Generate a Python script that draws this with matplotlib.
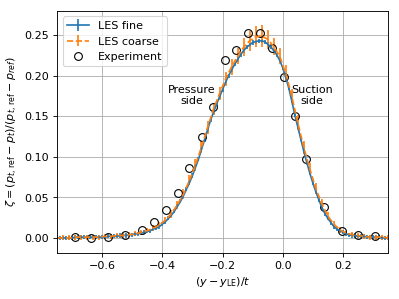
import numpy as np
import matplotlib
matplotlib.use('Agg')
import matplotlib.pyplot as plt

# LES fine, sampled every 0.01 from -0.75 to 0.35
fine_x = np.round(np.arange(-0.75, 0.355, 0.01), 2)
fine_zeta = [0.000, 0.000, 0.000, 0.000, 0.000, 0.000, 0.001, 0.001, 0.001, 0.001,
             0.001, 0.001, 0.001, 0.001, 0.001, 0.001, 0.001, 0.002, 0.002, 0.002,
             0.002, 0.003, 0.003, 0.003, 0.004, 0.004, 0.005, 0.005, 0.006, 0.007,
             0.008, 0.009, 0.011, 0.012, 0.014, 0.017, 0.020, 0.024, 0.028, 0.033,
             0.039, 0.045, 0.052, 0.060, 0.068, 0.077, 0.087, 0.097, 0.109, 0.121,
             0.133, 0.145, 0.155, 0.165, 0.174, 0.183, 0.192, 0.200, 0.207, 0.214,
             0.220, 0.226, 0.231, 0.235, 0.238, 0.241, 0.242, 0.243, 0.243, 0.242,
             0.239, 0.236, 0.231, 0.226, 0.219, 0.210, 0.198, 0.185, 0.169, 0.152,
             0.137, 0.122, 0.107, 0.093, 0.080, 0.068, 0.057, 0.047, 0.038, 0.030,
             0.024, 0.019, 0.014, 0.011, 0.009, 0.007, 0.005, 0.004, 0.003, 0.003,
             0.002, 0.002, 0.002, 0.001, 0.001, 0.001, 0.001, 0.001, 0.000, 0.000,
             0.000]
fine_err = 0.0025

# LES coarse, sampled every 0.02
coarse_x = np.round(np.arange(-0.75, 0.355, 0.02), 2)
coarse_zeta = [0.000, 0.000, 0.000, 0.001, 0.001, 0.001, 0.001, 0.001, 0.002, 0.002,
               0.003, 0.003, 0.004, 0.005, 0.007, 0.009, 0.012, 0.016, 0.022, 0.030,
               0.041, 0.054, 0.071, 0.090, 0.112, 0.136, 0.159, 0.178, 0.196, 0.211,
               0.224, 0.235, 0.243, 0.248, 0.249, 0.245, 0.236, 0.224, 0.203, 0.175,
               0.142, 0.112, 0.085, 0.061, 0.042, 0.027, 0.017, 0.010, 0.006, 0.004,
               0.003, 0.002, 0.001, 0.001, 0.001, 0.000]
coarse_err = [0.003, 0.003, 0.003, 0.003, 0.003, 0.003, 0.003, 0.003, 0.003, 0.003,
              0.003, 0.003, 0.003, 0.003, 0.003, 0.003, 0.004, 0.004, 0.004, 0.005,
              0.005, 0.006, 0.006, 0.007, 0.007, 0.008, 0.008, 0.008, 0.009, 0.010,
              0.010, 0.011, 0.012, 0.013, 0.013, 0.012, 0.011, 0.010, 0.010, 0.009,
              0.009, 0.008, 0.007, 0.007, 0.006, 0.005, 0.004, 0.004, 0.003, 0.003,
              0.003, 0.003, 0.003, 0.003, 0.003, 0.003]

# experiment
exp_x = [-0.690, -0.637, -0.580, -0.523, -0.467, -0.427, -0.389, -0.347, -0.310,
         -0.268, -0.232, -0.191, -0.154, -0.114, -0.076, -0.037, 0.004, 0.041,
         0.079, 0.137, 0.196, 0.251, 0.307]
exp_zeta = [0.001, 0.000, 0.001, 0.004, 0.010, 0.020, 0.034, 0.056, 0.086,
            0.124, 0.162, 0.219, 0.232, 0.253, 0.253, 0.234, 0.198, 0.150,
            0.097, 0.038, 0.009, 0.004, 0.002]

fig = plt.figure(figsize=(4.99, 3.74), dpi=80)
ax = fig.add_axes([0.143, 0.154, 0.829, 0.809])

h_fine = ax.errorbar(fine_x, fine_zeta, yerr=fine_err, color='tab:blue', label='LES fine')
h_coarse = ax.errorbar(coarse_x, coarse_zeta, yerr=coarse_err, color='tab:orange', ls='--', label='LES coarse')
h_exp, = ax.plot(exp_x, exp_zeta, 'o', mfc='none', mec='black', ms=7, label='Experiment')

ax.text(-0.303, 0.176, 'Pressure\nside', ha='center', va='center')
ax.text(0.098, 0.176, 'Suction\nside', ha='center', va='center')

ax.set_xlim(-0.75, 0.35)
ax.set_ylim(-0.0185, 0.28)
ax.set_xticks([-0.6, -0.4, -0.2, 0.0, 0.2])
ax.set_yticks([0.0, 0.05, 0.10, 0.15, 0.20, 0.25])
ax.grid(True)
ax.set_xlabel(r'$(y - y_\mathrm{LE})/t$')
ax.set_ylabel(r'$\zeta = (p_{t,\,\mathrm{ref}} - p_t)/(p_{t,\,\mathrm{ref}} - p_{ref})$')
ax.legend([h_fine, h_coarse, h_exp], ['LES fine', 'LES coarse', 'Experiment'], loc='upper left')

fig.savefig('out.png', dpi=80)
